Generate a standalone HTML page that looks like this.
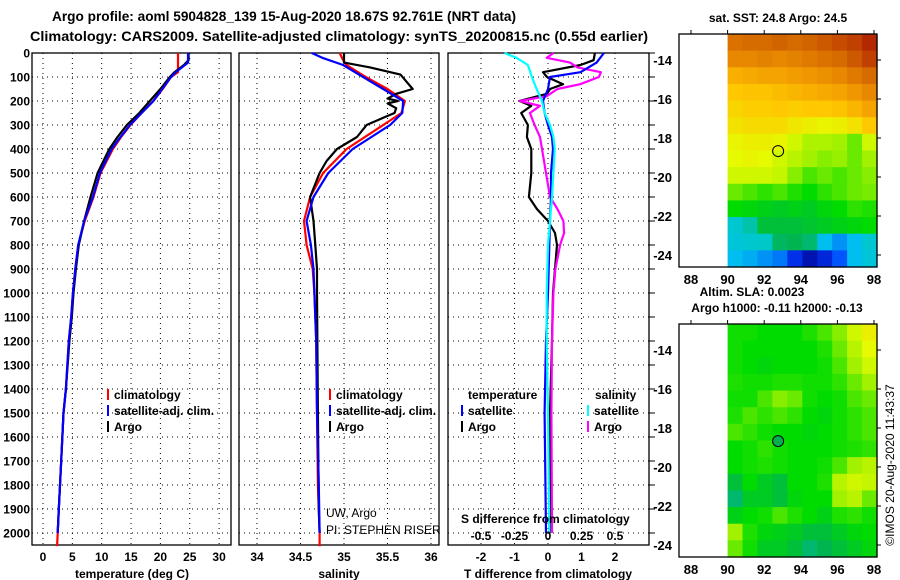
<!DOCTYPE html>
<html><head><meta charset="utf-8"><style>
html,body{margin:0;padding:0;background:#fff;}
svg{display:block;font-family:"Liberation Sans",sans-serif;}
</style></head><body>
<svg id="c" width="900" height="580" xmlns="http://www.w3.org/2000/svg"></svg>
<script>
// ---- data ----
const depthTicks=[0,100,200,300,400,500,600,700,800,900,1000,1100,1200,1300,1400,1500,1600,1700,1800,1900,2000];
const tempTicks=[0,5,10,15,20,25,30];
const salTicks=[34,34.5,35,35.5,36];
const salTickLabels=["34","34.5","35","35.5","36"];
const tdiffTicks=[-2,-1,0,1,2];
const sdiffTicks=[-0.5,-0.25,0,0.25,0.5];
const sdiffTickLabels=["-0.5","-0.25","0","0.25","0.5"];

const tArgoD=[0,30,50,80,100,150,200,250,300,350,400,500,600,700,800,900,1000,1100,1200,1400,1500,1700,1900,2000];
const tArgoV=[24.8,24.8,24.0,22.4,21.6,20.0,18.2,16.4,14.3,12.7,11.3,9.3,8.1,7.0,6.1,5.6,5.2,4.9,4.5,3.9,3.5,3.1,2.7,2.5];
const tClimD=[0,80,100,150,200,250,300,350,400,500,600,700,800,900,1000,1100,1200,1400,1500,1700,1900,2000,2055];
const tClimV=[23.0,23.0,21.8,20.4,18.8,16.8,14.9,13.3,11.9,9.8,8.6,7.1,6.0,5.5,5.1,4.8,4.4,3.9,3.5,3.1,2.7,2.5,2.4];
const tSatD=[0,40,80,100,150,200,250,300,350,400,500,600,700,800,900,1000,1100,1200,1400,1500,1700,1900,2000];
const tSatV=[24.7,24.7,22.6,21.8,20.3,18.8,16.8,14.8,13.2,11.7,9.7,8.5,7.0,6.0,5.5,5.1,4.8,4.4,3.9,3.5,3.1,2.7,2.5];

const sArgoD=[0,40,60,90,120,150,170,190,200,210,230,250,270,300,350,400,450,500,600,650,700,800,900,1000,1500,1900,2000];
const sArgoV=[35.0,35.0,35.3,35.65,35.72,35.79,35.6,35.5,35.62,35.5,35.6,35.58,35.45,35.26,35.15,34.92,34.8,34.72,34.61,34.63,34.65,34.67,34.69,34.69,34.70,34.71,34.72];
const sClimD=[0,30,50,100,150,200,250,300,400,500,600,700,800,900,1000,1200,1500,1800,2000,2055];
const sClimV=[34.95,34.99,35.03,35.25,35.5,35.70,35.66,35.45,35.03,34.76,34.61,34.54,34.57,34.64,34.66,34.68,34.69,34.70,34.72,34.72];
const sSatD=[0,20,50,100,150,200,250,300,400,500,600,700,800,900,1000,1200,1500,1800,2000];
const sSatV=[34.63,34.75,34.99,35.22,35.45,35.68,35.67,35.53,35.10,34.82,34.65,34.57,34.62,34.65,34.66,34.68,34.69,34.71,34.72];

const dTsatD=[0,40,80,100,150,200,250,300,350,400,500,600,700,1000,1200,1500,2000];
const dTsatV=[1.67,1.45,0.97,0.06,0.0,-0.15,-0.1,0.0,0.12,0.15,0.09,0.09,0.06,0.0,-0.06,-0.1,-0.06];
const dTargoD=[0,30,50,80,100,130,150,170,200,220,250,300,350,400,500,600,650,700,750,800,900,1000,1200,1500,2000];
const dTargoV=[1.4,1.36,0.97,-0.15,-0.03,0.45,0.06,-0.03,-0.85,-0.5,-0.8,-0.6,-0.63,-0.5,-0.5,-0.57,-0.33,0.0,0.21,0.27,0.21,0.15,0.12,0.06,0.06];
const dSsatD=[0,20,50,100,150,200,250,300,350,400,500,600,700,800,1000,1200,1500,2000];
const dSsatV=[-0.325,-0.235,-0.15,-0.12,-0.085,-0.045,-0.025,0.015,0.04,0.05,0.04,0.03,0.015,0.0,-0.01,-0.01,0.0,0.01];
const dSargoD=[0,20,40,60,80,100,130,150,180,200,220,250,300,350,400,500,600,650,700,750,800,900,1000,1200,1500,2000];
const dSargoV=[0.04,-0.01,0.165,0.22,0.395,0.38,0.24,0.07,-0.01,-0.21,-0.06,-0.135,-0.1,-0.06,-0.045,-0.015,0.015,0.07,0.115,0.12,0.09,0.055,0.04,0.03,0.025,0.03];

// maps: values 0..1 on colormap, 10 cols (lon 90-98) x 14 rows (lat -12.7 to -24.6)
const sstRows=[
[0.93,0.94,0.94,0.95,0.94,0.95,0.96,0.97,0.98,1.0],
[0.9,0.9,0.91,0.9,0.91,0.92,0.93,0.94,0.96,0.98],
[0.84,0.85,0.86,0.86,0.87,0.88,0.89,0.9,0.92,0.94],
[0.8,0.81,0.81,0.82,0.83,0.84,0.85,0.86,0.88,0.9],
[0.78,0.79,0.79,0.8,0.79,0.8,0.8,0.81,0.83,0.86],
[0.76,0.77,0.77,0.77,0.75,0.74,0.73,0.74,0.76,0.8],
[0.73,0.74,0.74,0.73,0.7,0.67,0.67,0.66,0.62,0.7],
[0.72,0.73,0.72,0.7,0.68,0.66,0.64,0.65,0.62,0.66],
[0.7,0.7,0.7,0.69,0.64,0.6,0.62,0.6,0.62,0.64],
[0.62,0.6,0.58,0.6,0.57,0.55,0.58,0.6,0.62,0.63],
[0.55,0.54,0.53,0.52,0.53,0.52,0.54,0.55,0.58,0.57],
[0.38,0.42,0.5,0.5,0.5,0.51,0.52,0.53,0.54,0.55],
[0.36,0.38,0.4,0.47,0.48,0.46,0.3,0.25,0.3,0.38],
[0.3,0.28,0.25,0.22,0.12,0.05,0.1,0.18,0.3,0.36]];
const slaRows=[
[0.56,0.56,0.55,0.55,0.55,0.57,0.6,0.64,0.7,0.74],
[0.56,0.55,0.55,0.55,0.55,0.55,0.57,0.62,0.68,0.72],
[0.56,0.55,0.54,0.55,0.55,0.55,0.56,0.6,0.66,0.7],
[0.57,0.56,0.56,0.57,0.57,0.56,0.56,0.58,0.62,0.66],
[0.56,0.56,0.6,0.64,0.62,0.56,0.55,0.56,0.6,0.62],
[0.57,0.6,0.58,0.6,0.58,0.55,0.54,0.56,0.58,0.6],
[0.6,0.58,0.56,0.55,0.55,0.54,0.55,0.56,0.58,0.6],
[0.55,0.56,0.58,0.56,0.55,0.55,0.55,0.56,0.57,0.58],
[0.55,0.56,0.57,0.56,0.55,0.55,0.56,0.6,0.66,0.68],
[0.5,0.55,0.52,0.5,0.55,0.55,0.57,0.68,0.7,0.69],
[0.46,0.52,0.52,0.5,0.54,0.55,0.55,0.66,0.68,0.62],
[0.53,0.55,0.56,0.6,0.57,0.55,0.53,0.57,0.58,0.56],
[0.66,0.57,0.54,0.53,0.52,0.5,0.5,0.52,0.54,0.55],
[0.62,0.56,0.52,0.52,0.5,0.46,0.48,0.5,0.52,0.54]];

// ---- helpers ----
const NS="http://www.w3.org/2000/svg";
const svg=document.getElementById('c');
function mk(tag,attrs,parent){const e=document.createElementNS(NS,tag);for(const k in attrs)e.setAttribute(k,attrs[k]);(parent||svg).appendChild(e);return e;}
function txt(s,x,y,opts,parent){const e=mk('text',Object.assign({x:x,y:y,'font-size':12,'font-weight':'bold',fill:'#000'},opts||{}),parent);e.textContent=s;return e;}

const Y0=53, PY=0.24, YB=545;
const yD=d=>Y0+d*PY;
const panels=[
 {l:32,r:231,x:v=>43+v*5.87,name:'temperature-panel'},
 {l:239,r:439,x:v=>257+(v-34)*87,name:'salinity-panel'},
 {l:448,r:649,x:v=>548+v*33.5,name:'t-diff-panel'}];
const xS=v=>548+v*134;

// titles
let t=txt('Argo profile: aoml 5904828_139 15-Aug-2020 18.67S 92.761E (NRT data)',52,21,{'font-size':14,textLength:464,lengthAdjust:'spacingAndGlyphs'});

t=txt('Climatology: CARS2009. Satellite-adjusted climatology: synTS_20200815.nc (0.55d earlier)',30,41,{'font-size':14,textLength:618,lengthAdjust:'spacingAndGlyphs'});


// panels
panels.forEach((p,i)=>{
  const g=mk('g',{});
  
  
  depthTicks.forEach(d=>{ if(d>0) mk('line',{x1:p.l,x2:p.r,y1:yD(d),y2:yD(d),stroke:'#000','stroke-dasharray':'1,4'},g);});
  const ticks=i===0?tempTicks:i===1?salTicks:tdiffTicks;
  ticks.forEach(v=>mk('line',{x1:p.x(v),x2:p.x(v),y1:Y0,y2:YB,stroke:'#000','stroke-dasharray':'1,4'},g));
  mk('rect',{x:p.l,y:Y0,width:p.r-p.l,height:YB-Y0,fill:'none',stroke:'#000','stroke-width':1.3},g);
  ticks.forEach((v,k)=>{const lab=i===1?salTickLabels[k]:String(v);
    const e=txt(lab,p.x(v),561,{'text-anchor':'middle'},g);
    });
});
// right ticks panel 3
depthTicks.forEach(d=>mk('line',{x1:649,x2:655,y1:yD(d),y2:yD(d),stroke:'#000'}));
// y labels
depthTicks.forEach(d=>{const e=txt(String(d),30,yD(d)+4.5,{'text-anchor':'end'});
  });
// axis titles
[['temperature (deg C)',132,'x-axis-title-temperature'],['salinity',339,'x-axis-title-salinity'],['T difference from climatology',548,'x-axis-title-t-diff']].forEach(a=>{
  const e=txt(a[0],a[1],578,{'text-anchor':'middle'});});

function line(D,V,xf,color,name){
  const pts=D.map((d,k)=>xf(V[k]).toFixed(1)+','+yD(d).toFixed(1)).join(' ');
  const e=mk('polyline',{points:pts,fill:'none',stroke:color,'stroke-width':2.2,'stroke-linejoin':'round'});
  
  
}
const px=panels.map(p=>p.x);
line(tClimD,tClimV,px[0],'#ff0000','temp-climatology-line');
line(tArgoD,tArgoV,px[0],'#000000','temp-argo-line');
line(tSatD,tSatV,px[0],'#0000ff','temp-satellite-line');
line(sClimD,sClimV,px[1],'#ff0000','sal-climatology-line');
line(sArgoD,sArgoV,px[1],'#000000','sal-argo-line');
line(sSatD,sSatV,px[1],'#0000ff','sal-satellite-line');
line(dTargoD,dTargoV,px[2],'#000000','tdiff-argo-line');
line(dSargoD,dSargoV,xS,'#ff00ff','sdiff-argo-line');
line(dTsatD,dTsatV,px[2],'#0000ff','tdiff-satellite-line');
line(dSsatD,dSsatV,xS,'#00ffff','sdiff-satellite-line');

// legends
function leg(x,y,color,label,name){
  const g=mk('g',{});
  mk('rect',{x:x,y:y-10,width:2,height:11,fill:color},g);
  txt(label,x+7,y,{},g);
}
leg(107,399,'#ff0000','climatology','legend-temp-climatology');
leg(107,415,'#0000ff','satellite-adj. clim.','legend-temp-satellite');
leg(107,431,'#000000','Argo','legend-temp-argo');
leg(329,399,'#ff0000','climatology','legend-sal-climatology');
leg(329,415,'#0000ff','satellite-adj. clim.','legend-sal-satellite');
leg(329,431,'#000000','Argo','legend-sal-argo');
t=txt('temperature',468,399);
t=txt('salinity',595,399);
leg(461,415,'#0000ff','satellite','legend-tdiff-satellite');
leg(461,431,'#000000','Argo','legend-tdiff-argo');
leg(587,415,'#00ffff','satellite','legend-sdiff-satellite');
leg(587,431,'#ff00ff','Argo','legend-sdiff-argo');
t=txt('S difference from climatology',461,523);
sdiffTicks.forEach((v,k)=>{const e=txt(sdiffTickLabels[k],xS(v),540,{'text-anchor':'middle'});
  });
t=txt('UW, Argo',326,517,{'font-weight':'normal'});
t=txt('PI: STEPHEN RISER',326,534,{'font-weight':'normal'});

// colormap
const cstops=[[0,[0,0,140]],[0.15,[0,60,255]],[0.3,[0,190,240]],[0.4,[0,200,200]],[0.48,[0,180,80]],[0.55,[0,220,0]],[0.65,[150,240,0]],[0.72,[230,250,0]],[0.8,[255,200,0]],[0.88,[240,150,0]],[0.95,[210,100,0]],[1,[180,40,0]]];
function cmap(v){for(let i=1;i<cstops.length;i++){if(v<=cstops[i][0]){const a=cstops[i-1],b=cstops[i];const f=(v-a[0])/(b[0]-a[0]);return 'rgb('+a[1].map((c,k)=>Math.round(c+(b[1][k]-c)*f)).join(',')+')';}}return 'rgb(180,40,0)';}

function drawMap(top,rows,name,filledCircle){
  const L=679,R=877,B=top+233;
  const lonX=lon=>691+(lon-88)*18.3;
  const latY=lat=>top+26+(-14-lat)*19.5;
  const g=mk('g',{});
  const x0=lonX(90),cw=(R-x0)/rows[0].length,ch=(B-top)/rows.length;
  rows.forEach((row,r)=>row.forEach((v,c)=>{
    const cell=mk('rect',{x:(x0+c*cw).toFixed(2),y:(top+r*ch).toFixed(2),width:(cw+0.6).toFixed(2),height:(ch+0.6).toFixed(2),fill:cmap(v)},g);
    
    
  }));
  mk('rect',{x:L,y:top,width:R-L,height:B-top,fill:'none',stroke:'#000','stroke-width':1.3},g);
  [88,90,92,94,96,98].forEach(lon=>{mk('line',{x1:lonX(lon),x2:lonX(lon),y1:top,y2:top-4,stroke:'#000'},g);
    txt(String(lon),lonX(lon),B+17,{'text-anchor':'middle','font-size':13},g);});
  [-14,-16,-18,-20,-22,-24].forEach(lat=>{mk('line',{x1:R,x2:R+4,y1:latY(lat),y2:latY(lat),stroke:'#000'},g);
    txt(String(lat),672,latY(lat)+5,{'text-anchor':'end','font-size':13},g);});
  const c=mk('circle',{cx:lonX(92.76),cy:latY(-18.67),r:5.5,fill:filledCircle?'#00b050':'none',stroke:'#000','stroke-width':1},g);
  
}
drawMap(34,sstRows,'sst-map',false);
drawMap(324,slaRows,'sla-map',true);
t=txt('sat. SST: 24.8 Argo: 24.5',778,22,{'text-anchor':'middle'});
t=txt('Altim. SLA: 0.0023',752,296,{'text-anchor':'middle'});
t=txt('Argo h1000: -0.11 h2000: -0.13',777,312,{'text-anchor':'middle'});
t=txt('©IMOS 20-Aug-2020 11:43:37',0,0,{'font-weight':'normal','text-anchor':'middle',transform:'translate(894,465) rotate(-90)'});

</script>
</body></html>
